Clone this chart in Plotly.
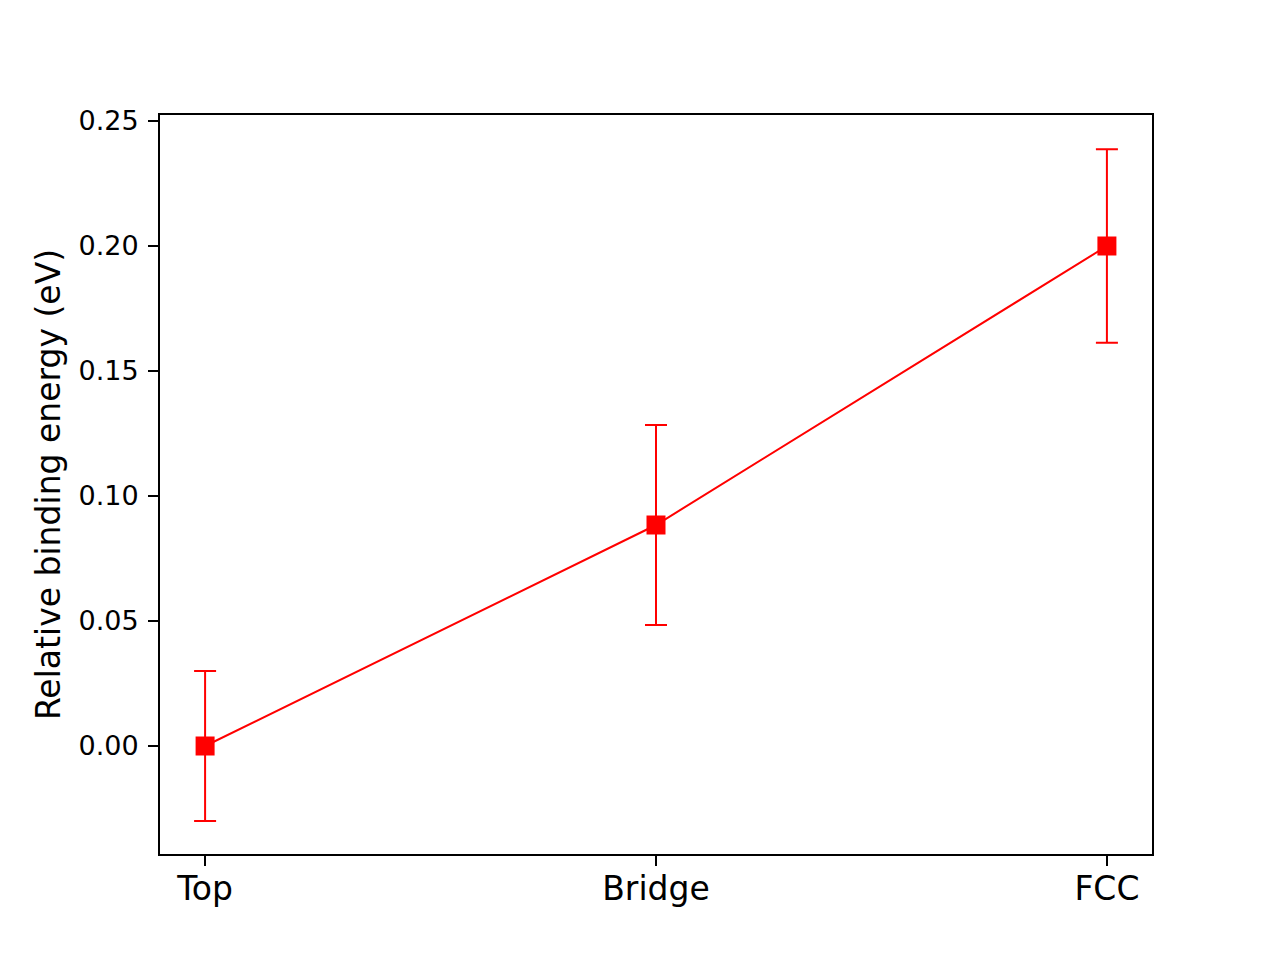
import plotly.graph_objects as go

sites = ["Top", "Bridge", "FCC"]
energy = [0.0, 0.0884, 0.2]
err = [0.03, 0.04, 0.0387]
yticks = [0.00, 0.05, 0.10, 0.15, 0.20, 0.25]

xpos = list(range(len(sites)))

fig = go.Figure()
fig.add_trace(go.Scatter(
    x=xpos, y=energy,
    mode="lines+markers",
    line=dict(color="red", width=2),
    marker=dict(symbol="square", size=19, color="red"),
    error_y=dict(type="data", array=err, visible=True, color="red", thickness=2, width=11),
    showlegend=False,
))

fig.update_layout(
    width=1280, height=960, autosize=False,
    margin=dict(l=152, r=136, t=107, b=114),
    plot_bgcolor="white", paper_bgcolor="white",
    font=dict(family="DejaVu Sans", color="black"),
)
fig.update_xaxes(
    range=[-0.1, 2.1],
    tickvals=xpos, ticktext=sites,
    tickfont=dict(size=33),
    showgrid=False, zeroline=False,
    showline=True, linecolor="black", linewidth=2, mirror=True,
    ticks="outside", ticklen=10, tickwidth=2, tickcolor="black",
    ticklabelstandoff=-6,
)
fig.update_yaxes(
    range=[-0.0432, 0.2524],
    tickvals=yticks, tickformat=".2f",
    tickfont=dict(size=27),
    showgrid=False, zeroline=False,
    showline=True, linecolor="black", linewidth=2, mirror=True,
    ticks="outside", ticklen=10, tickwidth=2, tickcolor="black",
    ticklabelstandoff=4,
    title=dict(text="Relative binding energy (eV)", font=dict(size=33), standoff=8),
)

fig.write_html("out.html")
